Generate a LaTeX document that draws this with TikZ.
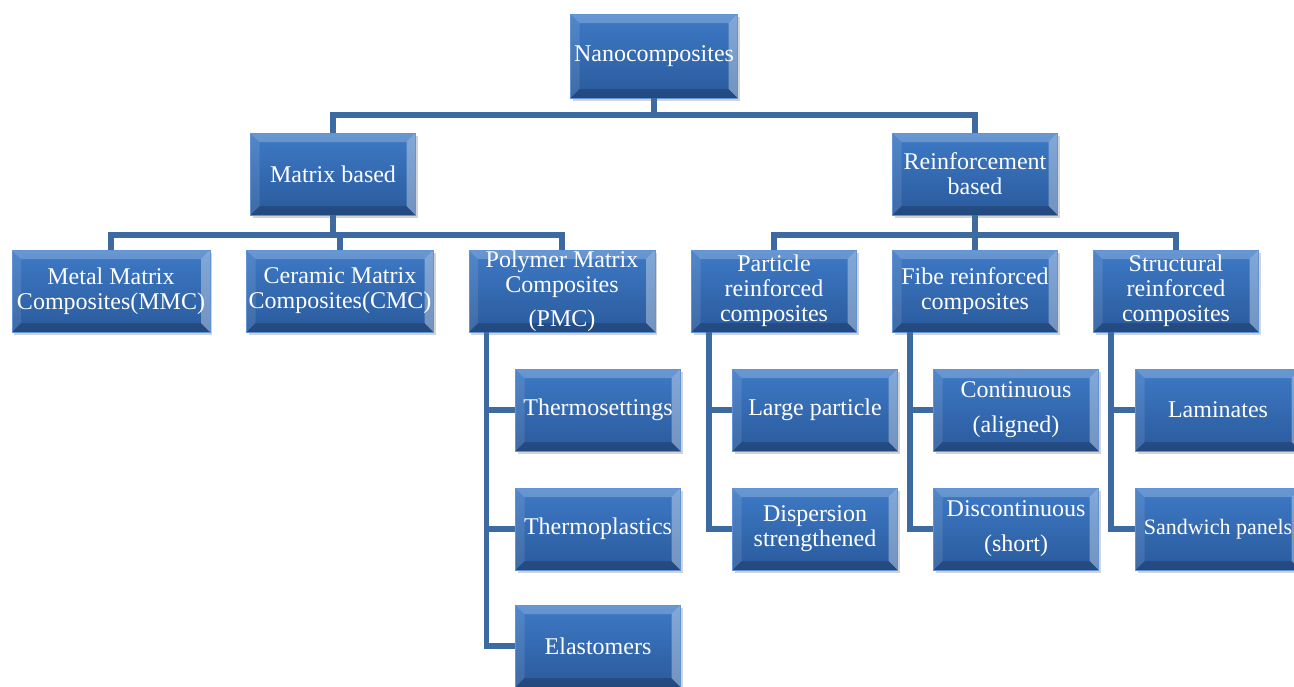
\documentclass[tikz,border=0pt]{standalone}
\usepackage{fontspec}
\setmainfont{Liberation Serif}
\usetikzlibrary{shadows}
\definecolor{bxtop}{RGB}{62,122,198}
\definecolor{bxbot}{RGB}{42,90,156}
\definecolor{bxedge}{RGB}{96,148,214}
\definecolor{conncol}{RGB}{62,106,162}
\tikzset{
  bx/.style={minimum width=165pt, minimum height=82pt, inner sep=0pt, text=white, align=center,
    font=\fontsize{24}{25}\selectfont,
    top color=bxtop, bottom color=bxbot, draw=bxedge, line width=0.8pt,
    drop shadow={shadow xshift=2pt, shadow yshift=-3pt, opacity=0.35},
    path picture={
      \fill[white,opacity=0.22] (path picture bounding box.north west) -- (path picture bounding box.north east)
        -- ([xshift=-9pt,yshift=-9pt]path picture bounding box.north east) -- ([xshift=9pt,yshift=-9pt]path picture bounding box.north west) -- cycle;
      \fill[white,opacity=0.10] (path picture bounding box.north west) -- ([xshift=9pt,yshift=-9pt]path picture bounding box.north west)
        -- ([xshift=9pt,yshift=9pt]path picture bounding box.south west) -- (path picture bounding box.south west) -- cycle;
      \fill[white,opacity=0.35] (path picture bounding box.north east) -- ([xshift=-9pt,yshift=-9pt]path picture bounding box.north east)
        -- ([xshift=-9pt,yshift=9pt]path picture bounding box.south east) -- (path picture bounding box.south east) -- cycle;
      \fill[black,opacity=0.18] (path picture bounding box.south west) -- ([xshift=9pt,yshift=9pt]path picture bounding box.south west)
        -- ([xshift=-9pt,yshift=9pt]path picture bounding box.south east) -- (path picture bounding box.south east) -- cycle;
    }},
  conn/.style={draw=conncol, line width=5.5pt}
}
\begin{document}
\begin{tikzpicture}[x=1pt,y=-1pt]
\useasboundingbox (0,0) rectangle (1294,686);
\coordinate (r1) at (0,115);
\coordinate (r2) at (0,235);
% nodes
\node[bx, minimum width=167pt, minimum height=84pt] (nano) at (654,56) {Nanocomposites};
\node[bx] (mat) at (333,174) {Matrix based};
\node[bx] (rein) at (975,174) {Reinforcement\\based};
\node[bx, minimum width=198pt] (mmc) at (111,291) {Metal Matrix\\Composites(MMC)};
\node[bx, minimum width=187pt] (cmc) at (340,291) {Ceramic Matrix\\Composites(CMC)};
\node[bx, minimum width=186pt] (pmc) at (562,291) {Polymer Matrix\\Composites\\[9pt](PMC)};
\node[bx] (part) at (774,291) {Particle\\reinforced\\composites};
\node[bx] (fibe) at (975,291) {Fibe reinforced\\composites};
\node[bx] (struc) at (1176,291) {Structural\\reinforced\\composites};
\node[bx] (tset) at (598,410) {Thermosettings};
\node[bx] (tplas) at (598,529) {Thermoplastics};
\node[bx] (elast) at (598,646) {Elastomers};
\node[bx] (large) at (815,410) {Large particle};
\node[bx] (disp) at (815,529) {Dispersion\\strengthened};
\node[bx] (cont) at (1016,410) {Continuous\\[10pt](aligned)};
\node[bx] (disc) at (1016,529) {Discontinuous\\[10pt](short)};
\node[bx] (lam) at (1218,410) {Laminates};
\node[bx, font=\fontsize{22}{25}\selectfont] (sand) at (1218,529) {Sandwich panels};
% connectors
\draw[conn] (nano.south) -- (nano.south |- r1);
\draw[conn] (mat.north) -- (mat.north |- r1) -- (rein.north |- r1) -- (rein.north);
\draw[conn] (mat.south) -- (mat.south |- r2);
\draw[conn] (mmc.north) -- (mmc.north |- r2) -- (pmc.north |- r2) -- (pmc.north);
\draw[conn] (cmc.north) -- (cmc.north |- r2);
\draw[conn] (rein.south) -- (rein.south |- r2);
\draw[conn] (part.north) -- (part.north |- r2) -- (struc.north |- r2) -- (struc.north);
\draw[conn] (fibe.north) -- (fibe.north |- r2);
\draw[conn] ([xshift=18pt]pmc.south west) |- (elast.west);
\draw[conn] ([xshift=18pt]pmc.south west) |- (tset.west);
\draw[conn] ([xshift=18pt]pmc.south west) |- (tplas.west);
\draw[conn] ([xshift=18pt]part.south west) |- (disp.west);
\draw[conn] ([xshift=18pt]part.south west) |- (large.west);
\draw[conn] ([xshift=18pt]fibe.south west) |- (disc.west);
\draw[conn] ([xshift=18pt]fibe.south west) |- (cont.west);
\draw[conn] ([xshift=18pt]struc.south west) |- (sand.west);
\draw[conn] ([xshift=18pt]struc.south west) |- (lam.west);
\end{tikzpicture}
\end{document}
